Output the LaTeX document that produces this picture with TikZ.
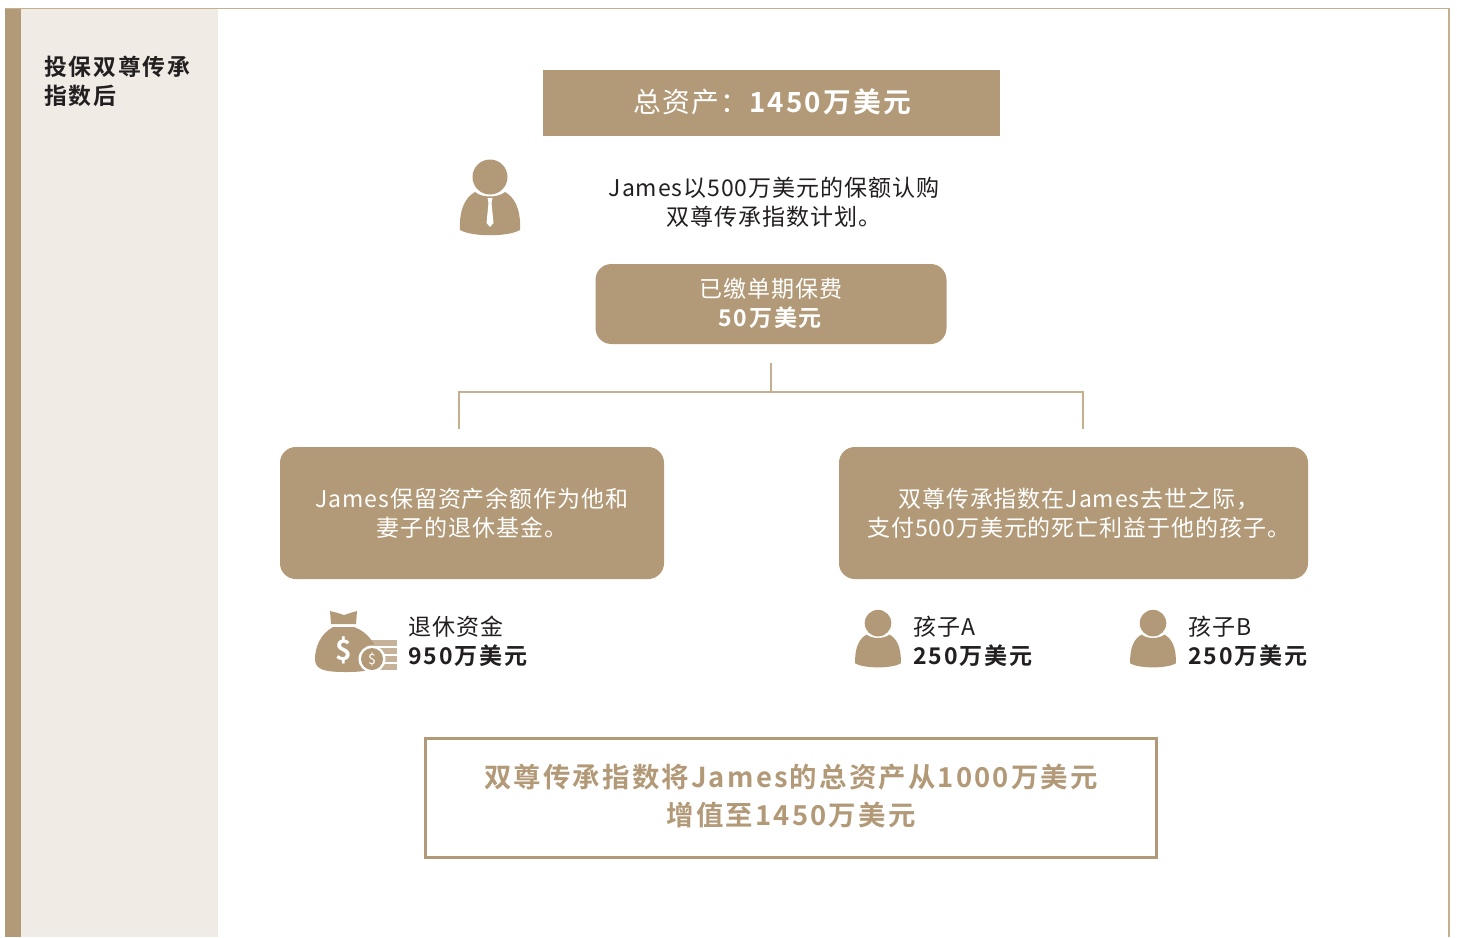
\documentclass[tikz,border=0pt]{standalone}
\usepackage{fontspec}
\setmainfont{Noto Sans CJK SC}[LetterSpace=4,BoldFont={Noto Sans CJK SC Bold},BoldFeatures={LetterSpace=8}]
\usepackage{tikz}
\usetikzlibrary{calc}
\definecolor{tancolor}{HTML}{B29977}
\definecolor{linecolor}{HTML}{C4B08F}
\definecolor{panelcolor}{HTML}{F0EBE5}
\definecolor{inkcolor}{HTML}{231F20}
\newcommand{\smalltext}{\fontsize{13.1pt}{16.6pt}\selectfont}
\newcommand{\bigtext}{\fontsize{15.8pt}{21.6pt}\selectfont}
\newcommand{\sidetext}{\fontsize{13pt}{16pt}\selectfont}
\newcommand{\liftline}[2]{\raisebox{#1}[\height][\depth]{#2}}
\tikzset{
  tanbox/.style={fill=tancolor,text=white,align=center,inner sep=0pt,font=\smalltext},
  softbox/.style={tanbox,rounded corners=9pt},
  inktext/.style={text=inkcolor,align=left,inner sep=0pt,font=\smalltext,anchor=west},
  treeline/.style={draw=linecolor,line width=0.7pt},
  pics/personfig/.style={code={
    \fill[tancolor] (0,-13) circle (17.5);
    \fill[tancolor] (-30,40) .. controls (-31,18) and (-24,7) .. (-15,2)
      .. controls (-8,8) and (8,8) .. (15,2)
      .. controls (24,7) and (31,18) .. (30,40)
      .. controls (18,47) and (-18,47) .. (-30,40) -- cycle;
  }},
  pics/tiefig/.style={code={
    \fill[white] (-2.5,8) -- (2.5,8) -- (1.5,13) -- (3.5,33) -- (0,37) -- (-3.5,33) -- (-1.5,13) -- cycle;
  }}
}
\begin{document}
\begin{tikzpicture}[x=0.02cm,y=-0.02cm]
\useasboundingbox (0,0) rectangle (1457,937);
%frame and side panel
\fill[panelcolor] (21,9) rectangle (218,937);
\fill[tancolor] (5,9) rectangle (21,937);
\draw[linecolor,line width=1.1pt] (5,8.5) -- (1449,8.5) -- (1449,937);
\node[text=inkcolor,font=\bfseries\sidetext,align=left,anchor=north west,inner sep=0pt] (sidelabel) at (44,56) {投保双尊传承\\指数后};
%top
\node[tanbox,minimum width=457*0.02cm,minimum height=66*0.02cm,font=\bigtext] (total) at (771.5,103) {\hspace*{2.3pt}\liftline{0.6pt}{总资产：\textbf{1450万美元}}};
\pic at (490,190) {personfig};
\pic at (490,190) {tiefig};
\node[inktext,align=center,anchor=center] (james) at (774,202) {James以500万美元的保额认购\\双尊传承指数计划。};
\node[softbox,minimum width=351*0.02cm,minimum height=80*0.02cm] (premium) at (771,304) {\liftline{0.6pt}{已缴单期保费}\\\liftline{0.6pt}{\textbf{50万美元}}};
%tree
\coordinate (treetop) at (771,363);
\coordinate (treemid) at (771,392);
\coordinate (treeleft) at (459,429);
\coordinate (treeright) at (1083,429);
\draw[treeline] (treetop) -- (treemid);
\draw[treeline] (treeleft) |- (treemid) -| (treeright);
%two branches
\node[softbox,minimum width=384*0.02cm,minimum height=132*0.02cm] (retire) at (472,513) {James保留资产余额作为他和\\妻子的退休基金。};
\node[softbox,minimum width=469*0.02cm,minimum height=132*0.02cm] (benefit) at (1073.5,513) {\hspace*{6pt}双尊传承指数在James去世之际，\\\hspace*{6pt}支付500万美元的死亡利益于他的孩子。};
%money bag
\foreach \y in {643,651,659,667}
  \fill[tancolor!75] (366,\y-3.2) rectangle (397,\y+3.2);
\fill[tancolor] (330,611) -- (338,613) -- (344,615) -- (350,613) -- (357,611) -- (356,624) -- (331,624) -- cycle;
\fill[tancolor] (333,627) -- (354,627) .. controls (370,633) and (379,648) .. (377,660)
  .. controls (376,670) and (366,672) .. (346,672) .. controls (325,672) and (315,670) .. (315,659)
  .. controls (315,648) and (320,634) .. (333,627) -- cycle;
\fill[white] (372,659) circle (13.5);
\fill[tancolor] (372,659) circle (11);
\node[text=white,font=\bfseries\fontsize{16pt}{16pt}\selectfont,inner sep=0pt] (bagsign) at (344,650) {\$};
\node[text=white,font=\fontsize{8pt}{8pt}\selectfont,inner sep=0pt] (coinsign) at (372,659) {\$};
\node[inktext] (fund) at (408,641) {退休资金\\\textbf{950万美元}};
%children
\pic[scale=0.76] at (878,633) {personfig};
\node[inktext] (childa) at (913,641) {孩子A\\\textbf{250万美元}};
\pic[scale=0.76] at (1153,633) {personfig};
\node[inktext] (childb) at (1188,641) {孩子B\\\textbf{250万美元}};
%result
\node[draw=tancolor,line width=1.7pt,text=tancolor,align=center,inner sep=0pt,font=\bfseries\fontsize{15.6pt}{21.6pt}\selectfont,minimum width=731*0.02cm,minimum height=119*0.02cm] (result) at (791,798) {\liftline{1.1pt}{双尊传承指数将James的总资产从1000万美元}\\\liftline{1.1pt}{增值至1450万美元}};
\end{tikzpicture}
\end{document}
